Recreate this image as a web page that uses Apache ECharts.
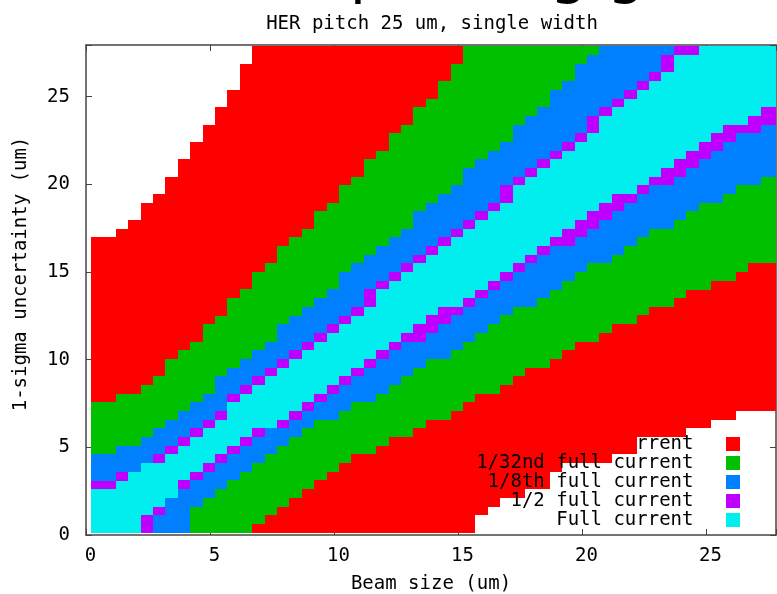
<!DOCTYPE html>
<html><head><meta charset="utf-8">
<script src="https://cdn.jsdelivr.net/npm/echarts@6/dist/echarts.min.js"></script>
<style>html,body{margin:0;padding:0;background:#fff}#c{width:777px;height:594px}</style>
</head><body><div id="c"></div>
<script>
// grid of the map: column centres (beam size, um) and row centres (1-sigma uncertainty, um)
const X_CENTERS = [0.45,0.95,1.45,1.95,2.45,2.95,3.45,3.95,4.45,4.95,5.45,5.95,6.45,6.95,7.45,7.95,8.45,8.95,9.45,9.95,10.45,10.95,11.45,11.95,12.45,12.95,13.45,13.95,14.45,14.95,15.45,15.95,16.45,16.95,17.45,17.95,18.45,18.95,19.45,19.95,20.45,20.95,21.45,21.95,22.45,22.95,23.45,23.95,24.45,24.95,25.45,25.95,26.45,26.95,27.45,27.95];
const Y_CENTERS = [0.39,0.88,1.38,1.87,2.37,2.86,3.36,3.85,4.35,4.84,5.34,5.83,6.33,6.82,7.32,7.81,8.31,8.80,9.30,9.79,10.29,10.78,11.28,11.77,12.27,12.77,13.26,13.76,14.25,14.75,15.24,15.74,16.23,16.73,17.22,17.72,18.21,18.71,19.20,19.70,20.19,20.69,21.18,21.68,22.17,22.67,23.16,23.66,24.15,24.65,25.15,25.64,26.14,26.63,27.13,27.62];
const X_TICKS = [0,5,10,15,20,25];
const Y_TICKS = [0,5,10,15,20,25];
const LEVEL_NAMES = ['1/128th full current','1/32nd full current','1/8th full current','1/2 full current','Full current'];

// per column: first row index reaching each level (from below) and first row index above it (from above)
const RED_BOT    = [0,0,0,0,0,0,0,0,0,0,0,0,0,0,0,0,0,0,0,0,0,0,0,0,0,0,0,0,0,0,0,2,3,4,4,5,5,7,8,8,8,8,9,9,11,11,11,11,12,12,13,13,14,14,14,14];
const GREEN_BOT  = [0,0,0,0,0,0,0,0,0,0,0,0,0,1,2,3,4,5,6,7,8,9,9,10,11,11,12,13,13,14,15,16,16,17,18,19,19,20,21,22,22,23,24,24,25,26,26,27,28,28,29,29,30,31,31,31];
const BLUE_BOT   = [0,0,0,0,0,0,0,0,3,4,5,6,7,8,9,10,11,12,13,13,14,15,15,16,17,18,19,20,20,21,22,23,24,25,26,26,27,28,29,30,31,31,32,33,34,35,35,36,37,38,38,39,40,40,41,41];
const PURPLE_BOT = [0,0,0,0,0,2,4,5,6,7,8,9,10,11,12,12,13,14,15,16,17,18,19,20,21,22,22,23,24,25,26,27,28,29,30,31,32,33,33,34,35,36,37,38,39,40,40,41,42,43,44,45,46,46,47,47];
const CYAN_BOT   = [0,0,0,0,2,3,4,6,7,8,9,10,11,12,12,13,14,15,16,17,18,19,20,21,22,23,24,25,26,26,27,28,29,30,31,32,33,34,35,36,37,38,39,39,40,41,42,43,44,45,46,47,47,48,49,49];
const CYAN_TOP   = [5,5,6,7,8,8,9,10,11,12,13,15,16,17,18,19,20,21,22,23,24,25,26,28,29,30,31,32,33,34,35,36,37,38,40,41,42,43,44,45,46,48,49,50,51,52,53,55,55,56,56,56,56,56,56,56];
const PURPLE_TOP = [6,6,7,7,8,9,10,11,12,13,14,16,17,18,19,20,21,22,23,24,25,26,28,29,30,31,32,33,34,35,36,37,38,40,41,42,43,44,45,46,48,49,50,51,52,53,55,56,56,56,56,56,56,56,56,56];
const BLUE_TOP   = [9,9,10,10,11,12,13,14,15,16,18,19,20,21,22,24,25,26,27,28,30,31,32,33,34,35,37,38,39,40,42,43,44,45,47,48,49,51,52,54,55,56,56,56,56,56,56,56,56,56,56,56,56,56,56,56];
const GREEN_TOP  = [15,15,16,16,17,18,20,21,22,24,25,27,28,30,31,33,34,35,37,38,40,41,43,44,46,47,49,50,52,54,56,56,56,56,56,56,56,56,56,56,56,56,56,56,56,56,56,56,56,56,56,56,56,56,56,56];
const RED_TOP    = [34,34,35,36,38,39,41,43,45,47,49,51,54,56,56,56,56,56,56,56,56,56,56,56,56,56,56,56,56,56,56,56,56,56,56,56,56,56,56,56,56,56,56,56,56,56,56,56,56,56,56,56,56,56,56,56];

const COLORS = ['#ff0000','#00c000','#0080ff','#c000ff','#00eeee'];
const DX = 0.5, DY = 0.4952;
const MONO = '"DejaVu Sans Mono", monospace';

const BOTS = [RED_BOT, GREEN_BOT, BLUE_BOT, PURPLE_BOT, CYAN_BOT];
const TOPS = [RED_TOP, GREEN_TOP, BLUE_TOP, PURPLE_TOP, CYAN_TOP];
const cells = [];
for (let L = 0; L < 5; L++) {
  for (let c = 0; c < X_CENTERS.length; c++) {
    const b = BOTS[L][c], t = TOPS[L][c];
    if (t > b) cells.push([X_CENTERS[c] - DX / 2, X_CENTERS[c] + DX / 2,
                           Y_CENTERS[b] - DY / 2, Y_CENTERS[t - 1] + DY / 2, L]);
  }
}

const chart = echarts.init(document.getElementById('c'), null, {renderer: 'canvas'});
const axisCol = '#444';
const baseAxis = {
  type: 'value', min: 0, interval: 5,
  splitLine: {show: false},
  axisLine: {show: true, onZero: false, lineStyle: {color: axisCol, width: 1.5}},
  axisTick: {show: true, inside: true, length: 6, lineStyle: {color: axisCol, width: 1}}
};
const labelStyle = {fontFamily: MONO, fontSize: 19, color: '#000'};

const graphics = [
  {type: 'text', left: 10, top: -55, z: 20,
   style: {text: 'Current map, using grid', font: '60px "DejaVu Sans", sans-serif', fill: '#000'}},
  {type: 'text', x: 432, y: 24, z: 20,
   style: {text: 'HER pitch 25 um, single width', font: '19px ' + MONO, fill: '#000', align: 'center', verticalAlign: 'middle'}},
  {type: 'text', x: 21, y: 274, rotation: Math.PI / 2, z: 20,
   style: {text: '1-sigma uncertainty (um)', font: '19px ' + MONO, fill: '#000', align: 'center', verticalAlign: 'middle'}}
];
LEVEL_NAMES.forEach((name, k) => {
  const yc = 443.7 + 19 * k;
  graphics.push({type: 'text', x: 693.5, y: yc + 0.5, z: k === 0 ? 1 : 20,
    style: {text: name, font: '19px ' + MONO, fill: '#000', align: 'right', verticalAlign: 'middle'}});
  graphics.push({type: 'rect', z: 20, shape: {x: 726, y: Math.round(yc - 7), width: 14, height: 14},
    style: {fill: COLORS[k]}});
});

chart.setOption({
  animation: false,
  backgroundColor: '#fff',
  grid: {left: 86, right: 1, top: 45, bottom: 59, containLabel: false, outerBoundsMode: 'none'},
  xAxis: [
    Object.assign({}, baseAxis, {position: 'bottom', max: 27.82,
      name: 'Beam size (um)', nameLocation: 'middle', nameGap: 40,
      nameTextStyle: {fontFamily: MONO, fontSize: 19, color: '#000'},
      axisLabel: Object.assign({margin: 12, padding: [0, 0, 0, 9],
        formatter: v => (X_TICKS.indexOf(v) >= 0 ? String(v) : '')}, labelStyle)}),
    Object.assign({}, baseAxis, {position: 'top', max: 27.82, axisLabel: {show: false}})
  ],
  yAxis: [
    Object.assign({}, baseAxis, {position: 'left', max: 27.95,
      axisLabel: Object.assign({margin: 16,
        formatter: v => (Y_TICKS.indexOf(v) >= 0 ? String(v) : '')}, labelStyle)}),
    Object.assign({}, baseAxis, {position: 'right', max: 27.95, axisLabel: {show: false}})
  ],
  graphic: graphics,
  series: [{
    type: 'custom', clip: true, silent: true, z: 2,
    xAxisIndex: 0, yAxisIndex: 0,
    encode: {x: [0, 1], y: [2, 3]},
    data: cells,
    renderItem: function (params, api) {
      const p0 = api.coord([api.value(0), api.value(2)]);
      const p1 = api.coord([api.value(1), api.value(3)]);
      const x0 = Math.round(p0[0]), x1 = Math.round(p1[0]);
      const yb = Math.round(p0[1]), yt = Math.round(p1[1]);
      return {type: 'rect', shape: {x: x0, y: yt, width: x1 - x0, height: yb - yt},
              style: {fill: COLORS[api.value(4)]}};
    }
  }]
});
</script></body></html>
